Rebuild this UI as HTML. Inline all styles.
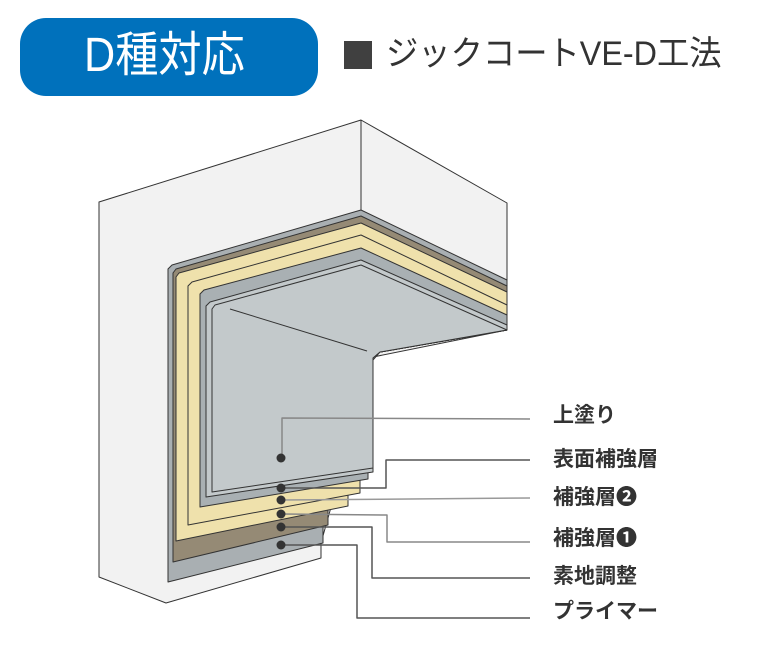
<!DOCTYPE html>
<html><head><meta charset="utf-8"><style>
html,body{margin:0;padding:0;background:#fff;}
body{width:769px;height:652px;position:relative;overflow:hidden;font-family:"Liberation Sans","Noto Sans CJK JP",sans-serif;}
.badge{position:absolute;left:20px;top:18px;width:298px;height:78px;background:#0071bc;border-radius:26px;}
.bt{position:absolute;left:84px;top:26px;color:#fff;font-size:48px;line-height:60px;transform:scaleX(0.9);transform-origin:left;white-space:nowrap;}
.sq{position:absolute;left:344px;top:41px;width:28px;height:28px;background:#404040;}
.tt{position:absolute;left:386px;top:30px;color:#333;font-size:34px;line-height:48px;transform:scaleX(0.95);transform-origin:left;white-space:nowrap;}
.lb{position:absolute;left:553px;color:#333;font-size:21px;font-weight:bold;line-height:26px;white-space:nowrap;}
</style></head><body>
<div class="badge"></div>
<div class="bt">D種対応</div>
<div class="sq"></div>
<div class="tt">ジックコートVE-D工法</div>
<svg width="769" height="652" style="position:absolute;left:0;top:0" stroke-linejoin="round">
<g stroke="#333" stroke-width="1">
<polygon points="99,202 361,120 507,203 507,330 373,357 321,543 321,558 166,603 99,577" fill="#f2f2f2"/>
<line x1="361" y1="120" x2="361" y2="210"/>
<polygon points="168,582 168,269 172,265 361,210 507,280 507,330 380,352 323,360 323,543" fill="#a9afb2"/>
<polygon points="173,562 173,273 176,269 361,216 507,286 507,330 380,352 328,360 328,525" fill="#958a75"/>
<polygon points="176,541 176,277 179,273 361,223 507,292 507,330 380,352 348,360 348,506" fill="#efe1ac"/>
<polygon points="188,525 188,286 192,282 361,235 507,305 507,330 380,352 360,360 360,493" fill="#efe1ac"/>
<polygon points="200,507 200,294 204,290 361,248 507,315 507,330 380,352 368,360 368,479" fill="#a9b0b3"/>
<polygon points="206,497 206,306 210,302 361,260 507,325 507,330 380,352 373,360 373,472" fill="#c3c9cb"/>
<polygon points="212,492 212,309 215,305 361,265 507,330 380,352 373,358 373,468" fill="#c3c9cb"/>
<line x1="230" y1="309" x2="367" y2="351"/>
</g>
<g fill="none" stroke-width="1.5">
<polyline points="282,458 282,418 530,419" stroke="#888"/>
<polyline points="282,488 386,488 386,460 530,460" stroke="#555"/>
<polyline points="282,500 530,498" stroke="#999"/>
<polyline points="282,514 387,515 387,542 530,542" stroke="#888"/>
<polyline points="282,527 372,527 372,578 530,578" stroke="#555"/>
<polyline points="282,545 357,545 357,618 530,618" stroke="#555"/>
</g>
<g fill="#333">
<circle cx="281" cy="458" r="4.5"/><circle cx="281" cy="488" r="4.5"/><circle cx="281" cy="500" r="4.5"/>
<circle cx="281" cy="514" r="4.5"/><circle cx="281" cy="527" r="4.5"/><circle cx="281" cy="545" r="4.5"/>
</g>
</svg>
<div class="lb" style="top:403px">上塗り</div>
<div class="lb" style="top:447px">表面補強層</div>
<div class="lb" style="top:485px">補強層❷</div>
<div class="lb" style="top:526px">補強層❶</div>
<div class="lb" style="top:564px">素地調整</div>
<div class="lb" style="top:599px">プライマー</div>
</body></html>
